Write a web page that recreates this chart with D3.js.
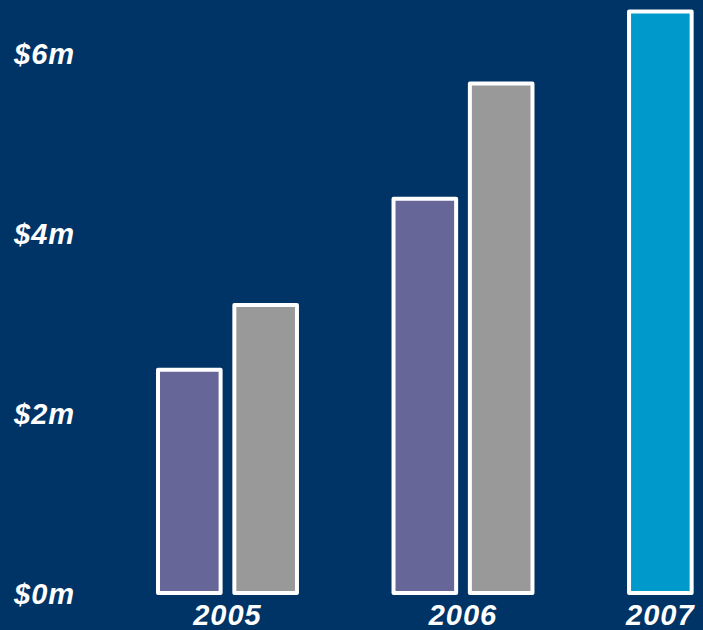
<!DOCTYPE html>
<html>
<head>
<meta charset="utf-8">
<script src="https://cdn.jsdelivr.net/npm/d3@7"></script>
<style>
  html, body { margin: 0; padding: 0; background: #003366; }
  svg { display: block; }
  text { font-family: "Liberation Sans", Arial, sans-serif; font-weight: bold; font-style: italic; fill: #ffffff; }
</style>
</head>
<body>
<div id="chart"></div>
<script>
// chart data
var years = ["2005", "2006", "2007"];
var seriesA = [2.48, 4.38, 6.46];
var seriesB = [3.2, 5.66, null];
var seriesAColors = ["#666699", "#666699", "#0099cc"];
var seriesBColor = "#999999";
var yTicks = [0, 2, 4, 6];

var width = 703, height = 630;

var svg = d3.select("#chart").append("svg")
  .attr("width", width)
  .attr("height", height);

svg.append("rect")
  .attr("width", width)
  .attr("height", height)
  .attr("fill", "#003366");

// scales
var x = d3.scaleBand()
  .domain(years)
  .range([158, 768])
  .paddingInner(0.41)
  .paddingOuter(0)
  .align(0);

var xs = d3.scaleBand()
  .domain(["a", "b"])
  .range([0, x.bandwidth()])
  .paddingInner(0.18);

var y = d3.scaleLinear()
  .domain([0, 6])
  .range([593, 53]);

// flatten into bars
var bars = [];
years.forEach(function (yr, i) {
  if (seriesA[i] != null) bars.push({ year: yr, key: "a", value: seriesA[i], color: seriesAColors[i] });
  if (seriesB[i] != null) bars.push({ year: yr, key: "b", value: seriesB[i], color: seriesBColor });
});

svg.append("g")
  .selectAll("rect")
  .data(bars)
  .join("rect")
  .attr("x", function (d) { return x(d.year) + xs(d.key); })
  .attr("y", function (d) { return y(d.value); })
  .attr("width", xs.bandwidth())
  .attr("height", function (d) { return y(0) - y(d.value); })
  .attr("fill", function (d) { return d.color; })
  .attr("stroke", "#ffffff")
  .attr("stroke-width", 4)
  .attr("stroke-linejoin", "round");

// y axis labels
svg.append("g")
  .selectAll("text")
  .data(yTicks)
  .join("text")
  .attr("x", 14)
  .attr("y", function (d) { return y(d) + 11; })
  .attr("font-size", 29)
  .attr("letter-spacing", 1)
  .text(function (d) { return "$" + d + "m"; });

// x labels, centred under the bars that exist in each year
svg.append("g")
  .selectAll("text")
  .data(years)
  .join("text")
  .attr("x", function (yr) {
    var b = bars.filter(function (d) { return d.year === yr; });
    return d3.mean(b, function (d) { return x(d.year) + xs(d.key) + xs.bandwidth() / 2; });
  })
  .attr("y", 625)
  .attr("text-anchor", "middle")
  .attr("font-size", 29)
  .attr("letter-spacing", 1)
  .text(function (d) { return d; });
</script>
</body>
</html>
